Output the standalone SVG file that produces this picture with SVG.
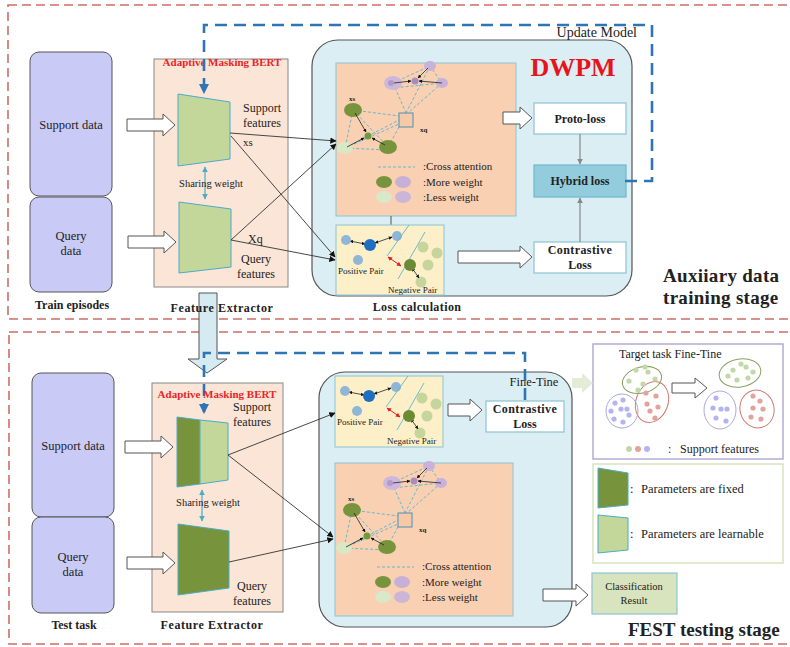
<svg xmlns="http://www.w3.org/2000/svg" xmlns:xlink="http://www.w3.org/1999/xlink" width="790" height="647" viewBox="0 0 790 647">
<style>
text{font-family:"Liberation Serif","Times New Roman",serif;fill:#222}
.b{font-weight:bold}
.stage{fill:none;stroke:#cf6d66;stroke-width:1.6;stroke-dasharray:9 5}
.upd{fill:none;stroke:#2e75b6;stroke-width:2.6;stroke-dasharray:12 7}
.data{fill:#cacaf7;stroke:#555;stroke-width:1}
.fe{fill:#fbe5d6;stroke:#888;stroke-width:1}
.big{fill:#dbeef4;stroke:#555;stroke-width:1.2}
.peach{fill:#f9d0b2;stroke:#8cc4d4;stroke-width:1}
.yel{fill:#fdf0c9;stroke:#8cc4d4;stroke-width:1}
.lt{fill:#c4d79b;stroke:#4bacc6;stroke-width:1}
.dk{fill:#77933c;stroke:#4bacc6;stroke-width:1}
.box{fill:#fff;stroke:#8cc4d4;stroke-width:1.2}
.hol{fill:#fff;stroke:#555;stroke-width:1}
.con{fill:none;stroke:#333;stroke-width:0.9}
.gry{fill:none;stroke:#888;stroke-width:1.2}
.att{fill:none;stroke:#5ab4d0;stroke-width:0.9;stroke-dasharray:3 2}
.sm{fill:none;stroke:#222;stroke-width:0.8}
.share{fill:none;stroke:#4bacc6;stroke-width:1.2}
</style>
<defs>
<marker id="ah" viewBox="0 0 10 10" refX="9" refY="5" markerWidth="7" markerHeight="7" orient="auto-start-reverse"><path d="M0,0 L10,5 L0,10 Z" fill="#111"/></marker>
<marker id="ahs" viewBox="0 0 10 10" refX="9" refY="5" markerWidth="4.5" markerHeight="4.5" orient="auto-start-reverse"><path d="M0,0 L10,5 L0,10 Z" fill="#111"/></marker>
<marker id="ahg" viewBox="0 0 10 10" refX="9" refY="5" markerWidth="5" markerHeight="5" orient="auto"><path d="M0,0 L10,5 L0,10 Z" fill="#888"/></marker>
<marker id="aht" viewBox="0 0 10 10" refX="9" refY="5" markerWidth="5" markerHeight="5" orient="auto-start-reverse"><path d="M0,0 L10,5 L0,10 Z" fill="#4bacc6"/></marker>
<marker id="ahr" viewBox="0 0 10 10" refX="9" refY="5" markerWidth="4.5" markerHeight="4.5" orient="auto-start-reverse"><path d="M0,0 L10,5 L0,10 Z" fill="#e02020"/></marker>
<marker id="ahb" viewBox="0 0 10 10" refX="8" refY="5" markerWidth="4" markerHeight="4" orient="auto"><path d="M0,0 L10,5 L0,10 Z" fill="#2e75b6"/></marker>
<g id="protoGraph">
<path class="att" d="M393,83 L430,66 L442,83 L393,88 M393,83 L406,113 M430,66 L406,113 M442,83 L408,113 M353,110 L345,148 L388,150 M353,110 L399,116 M353,110 L388,147 M345,148 L399,120 M388,147 L399,127 M345,148 L399,124"/>
<ellipse cx="393" cy="83" rx="9" ry="7" fill="#cdb8dc"/>
<circle cx="391" cy="83" r="3" fill="#b299ca"/>
<ellipse cx="430" cy="66" rx="6" ry="5" fill="#c8b2da"/>
<ellipse cx="442" cy="83" rx="6" ry="5" fill="#c8b2da"/>
<circle cx="415" cy="81" r="3.5" fill="#a98bc2"/>
<line class="sm" x1="394" y1="83" x2="411" y2="81" marker-end="url(#ahs)"/>
<line class="sm" x1="442" y1="83" x2="419" y2="81" marker-end="url(#ahs)"/>
<line class="sm" x1="428" y1="68" x2="418" y2="78" marker-end="url(#ahs)"/>
<ellipse cx="353" cy="110" rx="9" ry="7" fill="#77933c"/>
<ellipse cx="388" cy="147" rx="9" ry="7" fill="#77933c"/>
<ellipse cx="345" cy="148" rx="8" ry="6" fill="#d8e8c4"/>
<circle cx="368" cy="136" r="3.5" fill="#6f9a3c"/>
<line class="sm" x1="355" y1="113" x2="366" y2="132" marker-end="url(#ahs)"/>
<line class="sm" x1="385" y1="145" x2="372" y2="138" marker-end="url(#ahs)"/>
<line class="sm" x1="347" y1="147" x2="364" y2="138" marker-end="url(#ahs)"/>
<rect x="399" y="113" width="14" height="14" fill="#f8c9a6" stroke="#4a90b8" stroke-width="1"/>
<text x="349" y="101" font-size="7" class="b">xs</text>
<text x="420" y="132" font-size="7" class="b">xq</text>
<line class="att" x1="378" y1="167" x2="415" y2="167"/>
<text x="423" y="170" font-size="11">:Cross attention</text>
<ellipse cx="384" cy="182" rx="8" ry="6" fill="#77933c"/>
<ellipse cx="403" cy="182" rx="8" ry="6" fill="#c6b0d6"/>
<text x="423" y="185.5" font-size="11">:More weight</text>
<ellipse cx="384" cy="197" rx="8" ry="6" fill="#d8e8c8"/>
<ellipse cx="403" cy="197" rx="8" ry="6" fill="#cbb6d8"/>
<text x="423" y="200.5" font-size="11">:Less weight</text>
</g>
<g id="pairGraph">
<line class="sm" x1="350" y1="241" x2="365" y2="244" marker-start="url(#ahs)" marker-end="url(#ahs)"/>
<line class="sm" x1="375" y1="243" x2="392" y2="237" marker-start="url(#ahs)" marker-end="url(#ahs)"/>
<circle cx="346" cy="240" r="5" fill="#8fb6d6"/>
<circle cx="370" cy="245" r="6" fill="#1f6fc0"/>
<circle cx="397" cy="236" r="5" fill="#8fb6d6"/>
<circle cx="358" cy="260" r="5" fill="#8fb6d6"/>
<line x1="409" y1="225" x2="387" y2="256" stroke="#5ab4d0" stroke-width="0.9"/>
<line x1="425" y1="232" x2="398" y2="279" stroke="#5ab4d0" stroke-width="0.9"/>
<line x1="388" y1="257" x2="401" y2="266" stroke="#e02020" stroke-width="1" marker-start="url(#ahr)" marker-end="url(#ahr)"/>
<circle cx="423" cy="247" r="5.5" fill="#c6d59c"/>
<circle cx="437" cy="253" r="5.5" fill="#c6d59c"/>
<circle cx="428" cy="265" r="5.5" fill="#c6d59c"/>
<circle cx="421" cy="282" r="5.5" fill="#c6d59c"/>
<line class="sm" x1="412" y1="268" x2="419" y2="278" marker-start="url(#ahs)" marker-end="url(#ahs)"/>
<circle cx="410" cy="265" r="6" fill="#6b8a34"/>
<text x="338" y="274" font-size="9">Positive Pair</text>
<text x="388" y="293" font-size="9">Negative Pair</text>
</g>
</defs>

<!-- stage frames -->
<rect class="stage" x="8" y="5" width="800" height="314"/>
<rect class="stage" x="9" y="332" width="800" height="312"/>
<text x="663" y="282" font-size="19" class="b" letter-spacing="0.3">Auxiiary data</text>
<text x="663" y="304" font-size="19" class="b" letter-spacing="0.3">training stage</text>
<text x="628" y="636" font-size="19" class="b">FEST testing stage</text>

<!-- ===== Training stage ===== -->
<g id="train-support-data"><rect class="data" x="30" y="52" width="82" height="144" rx="9"/><text x="71" y="129" font-size="12.5" text-anchor="middle">Support data</text></g>
<g id="train-query-data"><rect class="data" x="30" y="197" width="82" height="95" rx="9"/><text x="71" y="240" font-size="12.5" text-anchor="middle">Query</text><text x="71" y="255" font-size="12.5" text-anchor="middle">data</text></g>
<text x="72" y="309" font-size="12" class="b" text-anchor="middle">Train episodes</text>

<g id="train-feature-extractor">
<rect class="fe" x="154" y="59" width="134" height="228"/>
<text x="222" y="66" font-size="11" class="b" text-anchor="middle" style="fill:#e8262a">Adaptive Masking BERT</text>
<polygon class="lt" points="178,94 230,102 230,159 178,166"/>
<polygon class="lt" points="179,202 231,209 231,267 179,273"/>
<line class="share" x1="205" y1="167" x2="205" y2="199" marker-start="url(#aht)" marker-end="url(#aht)"/>
<text x="211" y="187" font-size="10.5" text-anchor="middle">Sharing weight</text>
<text x="262" y="112" font-size="12" text-anchor="middle">Support</text>
<text x="262" y="127" font-size="12" text-anchor="middle">features</text>
<text x="243" y="146" font-size="11">xs</text>
<text x="248" y="243" font-size="12">Xq</text>
<text x="256" y="263" font-size="12" text-anchor="middle">Query</text>
<text x="256" y="278" font-size="12" text-anchor="middle">features</text>
</g>

<g id="train-dwpm">
<rect class="big" x="312" y="40" width="320" height="256" rx="26"/>
<text x="573" y="76" font-size="26" class="b" text-anchor="middle" style="fill:#e8141c">DWPM</text>
<rect class="peach" x="336" y="63" width="180" height="153"/>
<use xlink:href="#protoGraph"/>
<line x1="391" y1="216" x2="391" y2="225" stroke="#555" stroke-width="1"/>
<rect class="yel" x="336" y="225" width="108" height="70"/>
<use xlink:href="#pairGraph"/>
</g>
<text x="417" y="311" font-size="12" class="b" text-anchor="middle" letter-spacing="0.4">Loss calculation</text>

<g id="proto-loss"><rect class="box" x="534" y="103" width="92" height="31"/><text x="580" y="123" font-size="12" class="b" text-anchor="middle">Proto-loss</text></g>
<g id="hybrid-loss"><rect x="534" y="165" width="92" height="32" fill="#93cddd" stroke="#6fb8cc" stroke-width="1.2"/><text x="580" y="185" font-size="12" class="b" text-anchor="middle">Hybrid loss</text></g>
<g id="train-contrastive-loss"><rect class="box" x="534" y="242" width="92" height="31"/><text x="580" y="254" font-size="12" class="b" text-anchor="middle" letter-spacing="0.4">Contrastive</text><text x="580" y="269" font-size="12" class="b" text-anchor="middle">Loss</text></g>

<!-- ===== Testing stage ===== -->
<g id="test-support-data"><rect class="data" x="32" y="373" width="82" height="144" rx="9"/><text x="73" y="450" font-size="12.5" text-anchor="middle">Support data</text></g>
<g id="test-query-data"><rect class="data" x="32" y="517" width="82" height="96" rx="9"/><text x="73" y="561" font-size="12.5" text-anchor="middle">Query</text><text x="73" y="576" font-size="12.5" text-anchor="middle">data</text></g>
<text x="74" y="629" font-size="12" class="b" text-anchor="middle">Test task</text>

<g id="test-feature-extractor">
<rect class="fe" x="152" y="383" width="131" height="229"/>
<polygon class="dk" points="177,417 200,420 200,484 177,487"/>
<polygon class="lt" points="200,420 228,423 228,480 200,484"/>
<polygon class="dk" points="178,524 229,531 229,588 178,595"/>
<line class="share" x1="202" y1="490" x2="202" y2="521" marker-start="url(#aht)" marker-end="url(#aht)"/>
<text x="208" y="506" font-size="10.5" text-anchor="middle">Sharing weight</text>
<text x="252" y="411" font-size="12" text-anchor="middle">Support</text>
<text x="252" y="426" font-size="12" text-anchor="middle">features</text>
<text x="252" y="590" font-size="12" text-anchor="middle">Query</text>
<text x="252" y="605" font-size="12" text-anchor="middle">features</text>
</g>
<text x="212" y="629" font-size="12" class="b" text-anchor="middle" letter-spacing="0.6">Feature Extractor</text>

<g id="test-dwpm">
<rect class="big" x="319" y="372" width="253" height="255" rx="26"/>
<text x="534" y="386" font-size="12.5" text-anchor="middle">Fine-Tine</text>
<rect class="yel" x="335" y="376" width="108" height="71"/>
<use xlink:href="#pairGraph" transform="translate(-1,151)"/>
<rect class="peach" x="335" y="463" width="178" height="153"/>
<use xlink:href="#protoGraph" transform="translate(-1,400)"/>
</g>

<g id="test-contrastive-loss"><rect class="box" x="486" y="401" width="78" height="31"/><text x="525" y="413" font-size="12" class="b" text-anchor="middle" letter-spacing="0.4">Contrastive</text><text x="525" y="428" font-size="12" class="b" text-anchor="middle">Loss</text></g>

<g id="classification-result"><rect x="592" y="573" width="85" height="41" fill="#d7e4bd" stroke="#8cc4d4" stroke-width="1.2"/><text x="634" y="590" font-size="10.5" text-anchor="middle">Classification</text><text x="634" y="604" font-size="10.5" text-anchor="middle">Result</text></g>

<g id="finetune-panel">
<rect x="593" y="344" width="190" height="115" fill="#fff" stroke="#b4acd4" stroke-width="1.5"/>
<text x="619" y="358" font-size="12">Target task Fine-Tine</text>
<ellipse cx="642" cy="380" rx="20" ry="13" transform="rotate(-15 642 380)" fill="none" stroke="#8aa060" stroke-width="1"/>
<ellipse cx="652" cy="402" rx="16" ry="21" transform="rotate(20 652 402)" fill="none" stroke="#d07a70" stroke-width="1"/>
<ellipse cx="622" cy="411" rx="16" ry="17" fill="none" stroke="#a8a8e0" stroke-width="1"/>
<g fill="#c2d8a8"><circle cx="636" cy="370" r="2.6"/><circle cx="645" cy="367" r="2.6"/><circle cx="648" cy="372" r="2.6"/><circle cx="629" cy="381" r="2.6"/><circle cx="643" cy="384" r="2.6"/><circle cx="655" cy="379" r="2.6"/><circle cx="638" cy="390" r="2.6"/></g>
<g fill="#e2a39c"><circle cx="646" cy="393" r="2.6"/><circle cx="656" cy="396" r="2.6"/><circle cx="647" cy="404" r="2.6"/><circle cx="658" cy="407" r="2.6"/><circle cx="650" cy="411" r="2.6"/><circle cx="655" cy="418" r="2.6"/></g>
<g fill="#b4b4f0"><circle cx="615" cy="403" r="2.6"/><circle cx="623" cy="400" r="2.6"/><circle cx="611" cy="411" r="2.6"/><circle cx="621" cy="409" r="2.6"/><circle cx="627" cy="409" r="2.6"/><circle cx="629" cy="415" r="2.6"/><circle cx="614" cy="419" r="2.6"/><circle cx="623" cy="422" r="2.6"/></g>
<path class="hol" d="M672,383 H695 V378 L707,388 L695,398 V393 H672 Z"/>
<ellipse cx="740" cy="373" rx="21" ry="14" transform="rotate(-10 740 373)" fill="none" stroke="#8aa060" stroke-width="1"/>
<ellipse cx="720" cy="410" rx="16" ry="19" fill="none" stroke="#a8a8e0" stroke-width="1"/>
<ellipse cx="757" cy="409" rx="17" ry="19" transform="rotate(-15 757 409)" fill="none" stroke="#d07a70" stroke-width="1"/>
<g fill="#c2d8a8"><circle cx="741" cy="364" r="2.6"/><circle cx="746" cy="367" r="2.6"/><circle cx="733" cy="370" r="2.6"/><circle cx="753" cy="372" r="2.6"/><circle cx="737" cy="380" r="2.6"/><circle cx="748" cy="378" r="2.6"/><circle cx="728" cy="376" r="2.6"/></g>
<g fill="#b4b4f0"><circle cx="716" cy="398" r="2.6"/><circle cx="713" cy="408" r="2.6"/><circle cx="721" cy="409" r="2.6"/><circle cx="727" cy="409" r="2.6"/><circle cx="716" cy="418" r="2.6"/><circle cx="726" cy="421" r="2.6"/></g>
<g fill="#e2a39c"><circle cx="753" cy="396" r="2.6"/><circle cx="760" cy="401" r="2.6"/><circle cx="753" cy="408" r="2.6"/><circle cx="763" cy="409" r="2.6"/><circle cx="751" cy="417" r="2.6"/><circle cx="761" cy="419" r="2.6"/></g>
<circle cx="629" cy="449" r="3" fill="#c2d8a8"/><circle cx="638" cy="449" r="3" fill="#e2a39c"/><circle cx="647" cy="449" r="3" fill="#b4b4f0"/>
<text x="668" y="453" font-size="12">:</text>
<text x="680" y="453" font-size="12">Support features</text>
</g>

<g id="param-legend">
<rect x="593" y="464" width="190" height="99" fill="#fff" stroke="#d8e4bc" stroke-width="1.5"/>
<polygon class="dk" points="598,468 628,473 628,505 598,508"/>
<polygon class="lt" points="598,515 628,518 628,550 598,553"/>
<text x="630" y="493" font-size="12.5">:</text>
<text x="641" y="493" font-size="12.5">Parameters are fixed</text>
<text x="630" y="538" font-size="12.5">:</text>
<text x="641" y="538" font-size="12.5">Parameters are learnable</text>
</g>

<!-- ===== connectors ===== -->
<g id="connectors">
<path class="hol" d="M127,119 H163 V114 L175,125 L163,136 V131 H127 Z"/>
<path class="hol" d="M128,236 H164 V231 L176,242 L164,253 V248 H128 Z"/>
<path class="hol" d="M503,112 H520 V107 L532,118 L520,129 V124 H503 Z"/>
<path class="hol" d="M458,251 H520 V246 L532,257 L520,268 V263 H458 Z"/>
<path class="hol" d="M125,441 H161 V436 L173,447 L161,458 V453 H125 Z"/>
<path class="hol" d="M127,557 H163 V552 L175,563 L163,574 V569 H127 Z"/>
<path class="hol" d="M448,404 H470 V399 L482,410 L470,421 V416 H448 Z"/>
<path class="hol" d="M543,589 H576 V584 L588,595 L576,606 V601 H543 Z"/>
<path d="M572,378 H582 V373 L593,383 L582,393 V388 H572 Z" fill="#e2ecd6"/>
<path d="M199,293 H217 V359 H227 L207,373 L188,359 H199 Z" fill="#d6eaf2" stroke="#555" stroke-width="1"/>
<line class="con" x1="230" y1="133" x2="336" y2="141" marker-end="url(#ah)"/>
<line class="con" x1="231" y1="136" x2="335" y2="257" marker-end="url(#ah)"/>
<line class="con" x1="231" y1="240" x2="336" y2="144" marker-end="url(#ah)"/>
<line class="con" x1="231" y1="240" x2="335" y2="260" marker-end="url(#ah)"/>
<line class="con" x1="228" y1="455" x2="335" y2="413" marker-end="url(#ah)"/>
<line class="con" x1="228" y1="455" x2="333" y2="537" marker-end="url(#ah)"/>
<line class="con" x1="229" y1="562" x2="333" y2="539" marker-end="url(#ah)"/>
<line class="gry" x1="580" y1="134" x2="580" y2="164" marker-end="url(#ahg)"/>
<line class="gry" x1="580" y1="242" x2="580" y2="198" marker-end="url(#ahg)"/>
<path class="upd" d="M625,181 H652 V25 H204 V92" marker-end="url(#ahb)"/>
<path class="upd" d="M525,400 V353 H204 V412" marker-end="url(#ahb)"/>
</g>
<text x="222" y="312" font-size="12" class="b" text-anchor="middle" letter-spacing="0.6">Feature Extractor</text>
<text x="637" y="37" font-size="14" text-anchor="end">Update Model</text>
<text x="217" y="398" font-size="11" class="b" text-anchor="middle" style="fill:#e8262a">Adaptive Masking BERT</text>
</svg>
